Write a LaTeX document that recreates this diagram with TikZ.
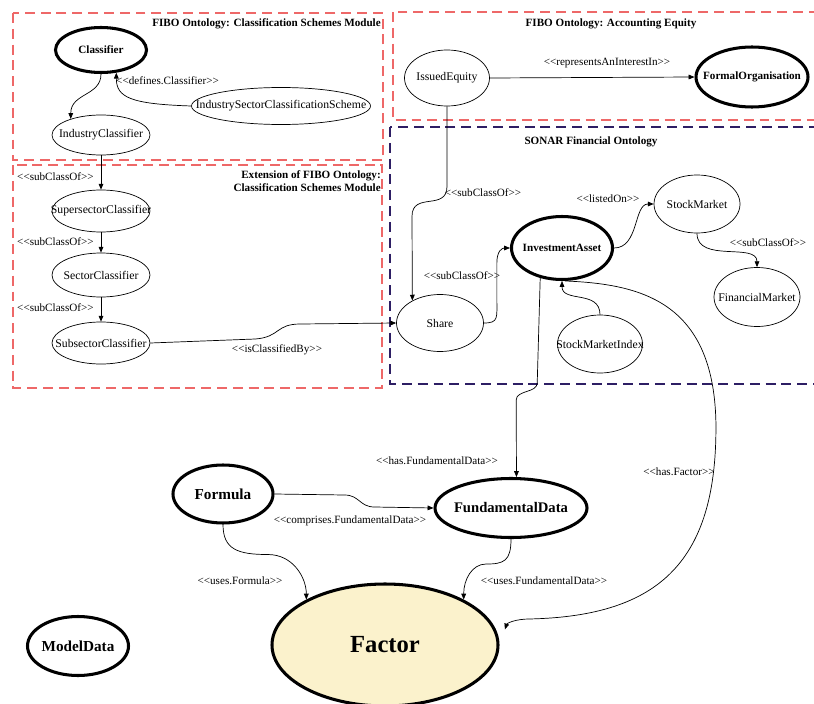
\documentclass[tikz,border=0pt]{standalone}
\usepackage{fontspec}
\setmainfont{Liberation Serif}
\usepackage{tikz}
\usetikzlibrary{shapes.geometric,arrows.meta}
\definecolor{fiboline}{RGB}{238,104,104}
\definecolor{sonarline}{RGB}{45,30,100}
\definecolor{factorfill}{RGB}{251,242,204}
\newlength{\pxu}
\setlength{\pxu}{0.03cm}
\tikzstyle{onclass}=[ellipse, draw, line width=0.6pt, inner sep=0pt]
\tikzstyle{onkey}=[ellipse, draw, line width=2.6pt, inner sep=0pt]
\tikzstyle{ontext}=[inner sep=0pt, font=\fontsize{10}{12}\selectfont]
\tikzstyle{onkeytext}=[inner sep=0pt, font=\fontsize{9.5}{11}\selectfont\bfseries]
\tikzstyle{onrel}=[draw, line width=0.6pt, -{Triangle[length=5pt,width=4pt]}]
\tikzstyle{onrellabel}=[inner sep=0pt, font=\fontsize{9.5}{11}\selectfont]
\tikzstyle{fibobox}=[draw=fiboline, line width=2.4pt, dash pattern=on 8.5pt off 5pt]
\tikzstyle{sonarbox}=[draw=sonarline, line width=2.4pt, dash pattern=on 8.5pt off 5pt]
\tikzstyle{boxtitle}=[inner sep=0pt, font=\fontsize{9.5}{11}\selectfont\bfseries]
\newcommand{\stereo}[1]{<\kern0pt<#1>\kern0pt>}
\newcommand{\onclass}[5]{
	\node[onclass, minimum width=#3\pxu, minimum height=#4\pxu] (#1) at (#2) {};
	\node[ontext] (#1-t) at (#2) {#5};}
\newcommand{\onkey}[6][]{
	\node[onkey, minimum width=#4\pxu, minimum height=#5\pxu] (#2) at (#3) {};
	\node[onkeytext, #1] (#2-t) at (#3) {#6};}

\begin{document}
\begin{tikzpicture}[x=0.03cm, y=-0.03cm]
	\useasboundingbox (0,0) rectangle (814,704);
	
	% module boxes
	\draw[fibobox] (13,13) rectangle (383,160);
	\draw[fibobox] (393,12) rectangle (830,120);
	\draw[fibobox] (13,165) rectangle (382,388);
	\draw[sonarbox] (390,127) rectangle (830,384);
	\node[boxtitle, anchor=east] (title-cls) at (381,24) {FIBO Ontology: Classification Schemes Module};
	\node[boxtitle] (title-equity) at (611,24) {FIBO Ontology: Accounting Equity};
	\node[boxtitle, anchor=east, align=right] (title-ext) at (381,181.5) {Extension of FIBO Ontology:\\Classification Schemes Module};
	\node[boxtitle] (title-sonar) at (591,142) {SONAR Financial Ontology};
	
	% classes
	\onkey{classifier}{101,50}{91}{45}{Classifier}
	\onclass{scheme}{281,106}{179}{37}{IndustrySectorClassificationScheme}
	\onclass{indcls}{101,135}{98}{40}{IndustryClassifier}
	\onclass{supcls}{101,211}{98}{42}{SupersectorClassifier}
	\onclass{seccls}{101,275}{98}{44}{SectorClassifier}
	\onclass{subcls}{101,343}{98}{42}{SubsectorClassifier}
	\onclass{issued}{447,78}{85}{56}{IssuedEquity}
	\onkey{formalorg}{752,77}{112}{60}{FormalOrganisation}
	\onclass{share}{440,323}{87}{57}{Share}
	\onkey{invasset}{562,248}{101}{63}{InvestmentAsset}
	\onclass{stockmkt}{697,204}{86}{58}{StockMarket}
	\onclass{finmkt}{757,297}{86}{59}{FinancialMarket}
	\onclass{smindex}{600,344}{85}{58}{StockMarketIndex}
	\onkey[font=\fontsize{13}{15}\selectfont\bfseries]{formula}{223,494}{100}{58}{Formula}
	\onkey[font=\fontsize{12.5}{15}\selectfont\bfseries]{funddata}{511,508}{152}{59}{FundamentalData}
	\onkey[font=\fontsize{13}{15}\selectfont\bfseries]{modeldata}{78,646}{101}{59}{ModelData}
	\node[onkey, fill=factorfill, minimum width=226\pxu, minimum height=122\pxu] (factor) at (385,645) {};
	\node[onkeytext, font=\fontsize{21}{24}\selectfont\bfseries] (factor-t) at (385,645) {Factor};
	
	% relations
	\path[onrel] (classifier.south) .. controls +(0,22) and +(0,-26) .. (indcls.152);
	\path[onrel] (scheme.west) .. controls +(-60,-2) and +(0,25) .. (classifier.-56);
	\node[onrellabel, anchor=west] (lbl-defines) at (116,81) {\stereo{defines.Classifier}};
	\path[onrel] (indcls.south) -- (supcls.north);
	\node[onrellabel, anchor=west] (lbl-sub1) at (17,177) {\stereo{subClassOf}};
	\path[onrel] (supcls.south) -- (seccls.north);
	\node[onrellabel, anchor=west] (lbl-sub2) at (17,242) {\stereo{subClassOf}};
	\path[onrel] (seccls.south) -- (subcls.north);
	\node[onrellabel, anchor=west] (lbl-sub3) at (17,308) {\stereo{subClassOf}};
	\path[onrel] (subcls.east) -- ++(105,-4) .. controls +(25,-2) and +(-25,0) .. ++(45,-15) -- (share.west);
	\node[onrellabel] (lbl-classified) at (277,350) {\stereo{isClassifiedBy}};
	
	\path[onrel] (issued.east) -- (formalorg.west);
	\node[onrellabel] (lbl-represents) at (607,63) {\stereo{representsAnInterestIn}};
	\path[onrel] (issued.south) -- ++(0,80) .. controls +(0,25) and +(0,-25) .. ++(-35,30) -- (share.141);
	\node[onrellabel] (lbl-sub4) at (483,193) {\stereo{subClassOf}};
	\path[onrel] (share.east) .. controls +(15,0) and +(0,20) .. ++(13,-25) -- ++(0,-35) .. controls +(0,-12) and +(-8,0) .. (invasset.west);
	\node[onrellabel] (lbl-sub5) at (462,276) {\stereo{subClassOf}};
	\path[onrel] (invasset.east) .. controls +(25,0) and +(-20,0) .. (stockmkt.west);
	\node[onrellabel] (lbl-listed) at (608,199) {\stereo{listedOn}};
	\path[onrel] (stockmkt.south) .. controls +(0,30) and +(0,-25) .. (finmkt.north);
	\node[onrellabel] (lbl-sub6) at (768,243) {\stereo{subClassOf}};
	\path[onrel] (smindex.north) .. controls +(0,-25) and +(0,22) .. (invasset.south);
	
	\path[onrel] (invasset.-126) -- ++(-3,105) .. controls +(0,10) and +(0,-10) .. ++(-21,17) -- (funddata.80);
	\node[onrellabel] (lbl-hasfund) at (437,461) {\stereo{has.FundamentalData}};
	\path[onrel] (invasset.-85) .. controls +(75,3) and +(-3,-120) .. ++(151,140) .. controls +(2,140) and +(130,-3) .. ++(-186,198) .. controls +(-15,0) and +(2,-6) .. ([xshift=9\pxu]factor.8);
	\node[onrellabel] (lbl-hasfactor) at (679,472) {\stereo{has.Factor}};
	\path[onrel] (formula.east) -- ++(70,1) .. controls +(15,0) and +(-15,0) .. ++(30,12) -- (funddata.west);
	\node[onrellabel] (lbl-comprises) at (350,521) {\stereo{comprises.FundamentalData}};
	\path[onrel] (formula.south) .. controls +(0,25) and +(-30,0) .. ++(45,30) .. controls +(25,0) and +(0,-22) .. (factor.150);
	\node[onrellabel] (lbl-usesformula) at (240,581) {\stereo{uses.Formula}};
	\path[onrel] (funddata.south) .. controls +(0,22) and +(18,0) .. ++(-25,25) .. controls +(-14,0) and +(0,-20) .. (factor.30);
	\node[onrellabel] (lbl-usesfund) at (544,581) {\stereo{uses.FundamentalData}};
\end{tikzpicture}
\end{document}
